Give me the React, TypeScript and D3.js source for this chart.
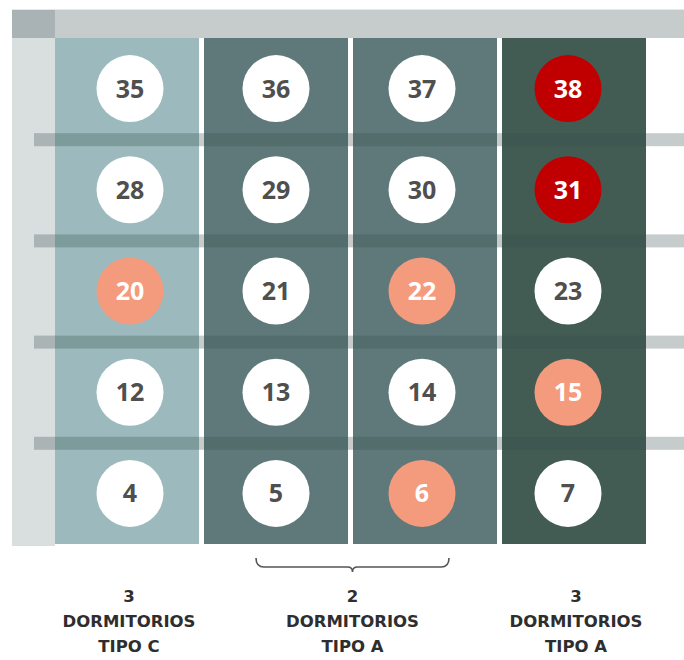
import React from "react";
import * as d3 from "d3";

const columns = ["3C", "2A-1", "2A-2", "3A"];
const columnColors = ["#9cbabd", "#5f797b", "#5f797b", "#425c53"];
const floors = ["P5", "P4", "P3", "P2", "P1"];
const units = [
  [35, 36, 37, 38],
  [28, 29, 30, 31],
  [20, 21, 22, 23],
  [12, 13, 14, 15],
  [4, 5, 6, 7],
];
const soldUnits = [38, 31];
const reservedUnits = [20, 22, 15, 6];
const groups = [
  { lines: ["3", "DORMITORIOS", "TIPO C"], cols: ["3C"] },
  { lines: ["2", "DORMITORIOS", "TIPO A"], cols: ["2A-1", "2A-2"] },
  { lines: ["3", "DORMITORIOS", "TIPO A"], cols: ["3A"] },
];

const W = 684;
const H = 660;

export default function App() {
  const x = d3.scaleBand<string>().domain(columns).range([55, 646]).paddingInner(5 / 149);
  const cx = d3.scalePoint<string>().domain(columns).range([130, 568]);
  const y = d3.scaleBand<string>().domain(floors).range([38, 544]);
  const r = 33.5;

  const fillFor = (u: number) =>
    soldUnits.includes(u) ? "#c00000" : reservedUnits.includes(u) ? "#f49a7d" : "#ffffff";
  const textFor = (u: number) => (fillFor(u) === "#ffffff" ? "#4f4f4f" : "#ffffff");

  const separators = floors.slice(1).map((f) => y(f)!);

  const bx0 = x("2A-1")! + 52;
  const bx1 = x("2A-2")! + x.bandwidth() - 48;
  const bm = (bx0 + bx1) / 2;
  const bTop = 558;
  const bMid = 567;
  const bTip = 572;
  const brace = d3.path();
  brace.moveTo(bx0, bTop);
  brace.quadraticCurveTo(bx0, bMid, bx0 + 8, bMid);
  brace.lineTo(bm - 5, bMid);
  brace.quadraticCurveTo(bm, bMid, bm, bTip);
  brace.quadraticCurveTo(bm, bMid, bm + 5, bMid);
  brace.lineTo(bx1 - 8, bMid);
  brace.quadraticCurveTo(bx1, bMid, bx1, bTop);

  return (
    <svg width={W} height={H} style={{ position: "absolute", left: 0, top: 0 }}>
      <rect x={0} y={0} width={W} height={H} fill="#ffffff" />
      {/* top bar */}
      <rect x={12} y={9} width={W - 12} height={1.5} fill="#e4e8e8" />
      <rect x={12} y={10} width={W - 12} height={28} fill="#c5cccb" />
      <rect x={12} y={10} width={43} height={28} fill="#a9b3b5" />
      {/* left strip */}
      <rect x={12} y={38} width={43} height={508} fill="#d9dedf" />
      {/* columns */}
      {columns.map((c, i) => (
        <rect key={c} x={x(c)} y={38} width={x.bandwidth()} height={506} fill={columnColors[i]} />
      ))}
      {/* floor separators */}
      {separators.map((s, i) => (
        <rect key={i} x={34} y={s - 6} width={W - 34} height={13} fill="rgb(55,79,76)" opacity={0.29} />
      ))}
      {/* units */}
      {floors.map((f, ri) =>
        columns.map((c, ci) => {
          const u = units[ri][ci];
          const px = cx(c)!;
          const py = y(f)! + y.bandwidth() / 2;
          return (
            <g key={u}>
              <circle cx={px} cy={py} r={r} fill={fillFor(u)} />
              <text
                x={px}
                y={py + 9}
                textAnchor="middle"
                fontFamily="'Open Sans', sans-serif"
                fontWeight={700}
                fontSize={25}
                fill={textFor(u)}
              >
                {u}
              </text>
            </g>
          );
        })
      )}
      {/* brace */}
      <path d={brace.toString()} fill="none" stroke="#555555" strokeWidth={1.6} />
      {/* labels */}
      {groups.map((g, gi) => {
        const first = x(g.cols[0])!;
        const last = x(g.cols[g.cols.length - 1])! + x.bandwidth();
        const lx = (first + last) / 2 + 2;
        return (
          <text
            key={gi}
            textAnchor="middle"
            fontFamily="'DejaVu Sans', sans-serif"
            fontWeight={700}
            fontSize={16.5}
            fill="#2e2e2e"
          >
            {g.lines.map((l, li) => (
              <tspan key={li} x={lx} y={602 + li * 25}>
                {l}
              </tspan>
            ))}
          </text>
        );
      })}
    </svg>
  );
}
